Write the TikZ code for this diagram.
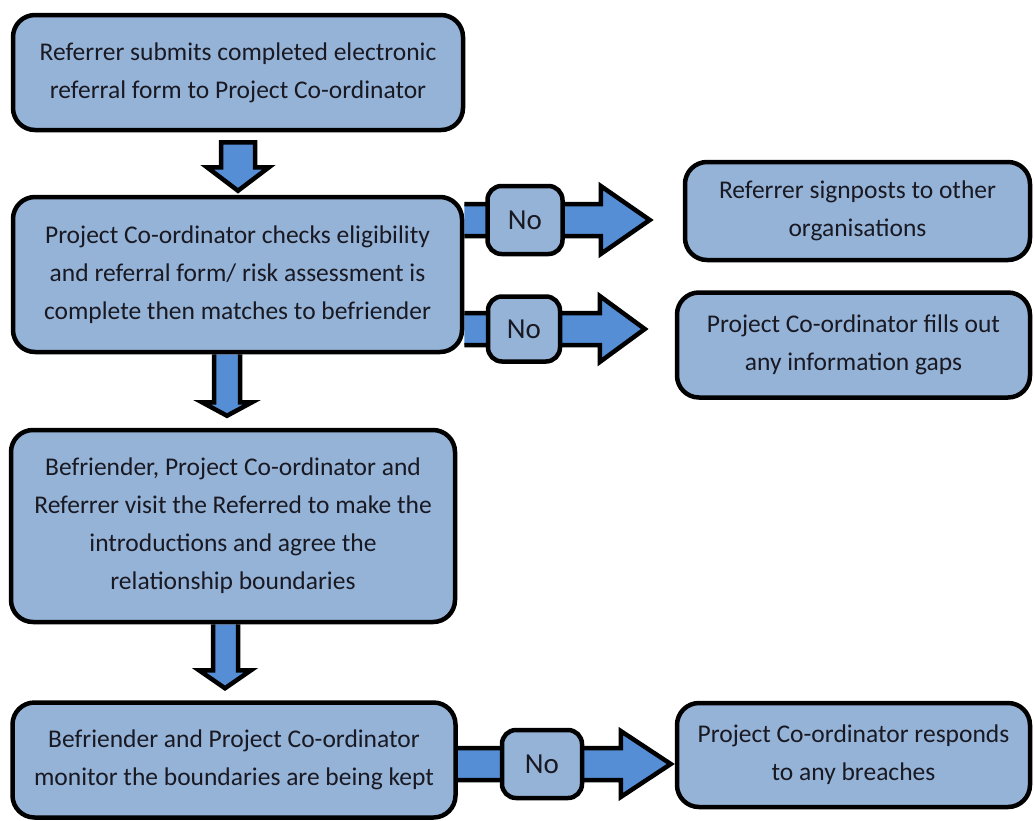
\documentclass[tikz,border=0pt]{standalone}
\usepackage{fontspec}
\setmainfont{Carlito}
\usetikzlibrary{calc,backgrounds}
\definecolor{boxblue}{RGB}{149,179,215}
\definecolor{arrowblue}{RGB}{85,142,213}
\definecolor{inkdark}{RGB}{25,25,35}

\begin{document}
\begin{tikzpicture}[x=1pt, y=-1pt,
  stage/.style={rectangle, rounded corners=22pt, draw=black, line width=4.5pt,
    fill=boxblue, align=center, text=inkdark, font=\fontsize{25.5}{38}\selectfont},
  nobox/.style={rectangle, rounded corners=14pt, draw=black, line width=4.5pt,
    fill=boxblue, text=inkdark, font=\fontsize{29}{30}\selectfont},
  fat/.style={draw=black, line width=4.5pt, fill=arrowblue, line join=miter}]
  \useasboundingbox (0,0) rectangle (1034,820);
  % \draw[help lines] (0,0) grid[step=100] (1034,820);
  \node at (238, 72.5) [stage, minimum width=450pt, minimum height=115pt]
  (submit) {Referrer submits completed electronic\\ referral form to Project Co-ordinator};
  \node at (237.5, 274.5) [stage, minimum width=449pt, minimum height=155pt]
  (check) {Project Co-ordinator checks eligibility\\ and referral form/ risk assessment is\\ complete then matches to befriender};
  \node at (233, 526) [stage, minimum width=444pt, minimum height=192pt]
  (visit) {Befriender, Project Co-ordinator and\\ Referrer visit the Referred to make the\\ introductions and agree the\\ relationship boundaries};
  \node at (234, 760) [stage, minimum width=443pt, minimum height=115pt]
  (monitor) {Befriender and Project Co-ordinator\\ monitor the boundaries are being kept};
  \node at (857.5, 211) [stage, minimum width=345pt, minimum height=98pt]
  (signpost) {Referrer signposts to other\\ organisations};
  \node at (853.5, 345) [stage, minimum width=353pt, minimum height=105pt]
  (gaps) {Project Co-ordinator fills out\\ any information gaps};
  \node at (853.5, 755) [stage, minimum width=353pt, minimum height=104pt]
  (breach) {Project Co-ordinator responds\\ to any breaches};
  \node at (525, 220) [nobox, minimum width=75pt, minimum height=68pt] (no1) {No};
  \node at (524, 329) [nobox, minimum width=72pt, minimum height=65pt] (no2) {No};
  \node at (542, 764) [nobox, minimum width=80pt, minimum height=68pt] (no3) {No};

  \begin{pgfonlayer}{background}
  \fill[white] (0,0) rectangle (1034,820);
  % down arrows
  \draw[fat] let \p1=(submit.south), \p2=(check.north) in
  (\x1-17pt,\y1-10pt) -- (\x1-17pt,\y1-35pt) -- (\x1-31pt,\y1-35pt) -- (\x1,\y2+4pt)
  -- (\x1+31pt,\y1-35pt) -- (\x1+17pt,\y1-35pt) -- (\x1+17pt,\y1-10pt) -- cycle;
  \draw[fat] let \p1=(check.south), \p2=(visit.north) in
  (\x2-19pt,\y1) -- (\x2-19pt,\y1-48pt) -- (\x2-31pt,\y1-48pt) -- (\x2-6pt,\y2+12pt)
  -- (\x2+19pt,\y1-48pt) -- (\x2+7pt,\y1-48pt) -- (\x2+7pt,\y1);
  \draw[fat] let \p1=(visit.south), \p2=(monitor.north) in
  (\x2-21pt,\y1) -- (\x2-21pt,\y2+30pt) -- (\x2-35pt,\y2+30pt) -- (\x2-9pt,\y2+12pt)
  -- (\x2+17pt,\y2+30pt) -- (\x2+4pt,\y2+30pt) -- (\x2+4pt,\y1);
  % side arrows
  \draw[fat] let \p1=(check.east), \p2=(signpost.west), \p3=(no1) in
  (\x1,\y3+16pt) -- (\x2-82pt,\y3+16pt) -- (\x2-82pt,\y3+34pt) -- (\x2-33pt,\y3)
  -- (\x2-82pt,\y3-34pt) -- (\x2-82pt,\y3-16pt) -- (\x1,\y3-16pt);
  \draw[fat] let \p1=(check.east), \p2=(gaps.west), \p3=(no2) in
  (\x1,\y3+16pt) -- (\x2-75pt,\y3+16pt) -- (\x2-75pt,\y3+33pt) -- (\x2-30pt,\y3)
  -- (\x2-75pt,\y3-33pt) -- (\x2-75pt,\y3-16pt) -- (\x1,\y3-16pt);
  \draw[fat] let \p1=(monitor.east), \p2=(breach.west), \p3=(no3) in
  (\x1,\y3+16pt) -- (\x2-54pt,\y3+16pt) -- (\x2-54pt,\y3+33pt) -- (\x2-4pt,\y3)
  -- (\x2-54pt,\y3-33pt) -- (\x2-54pt,\y3-16pt) -- (\x1,\y3-16pt);
  \end{pgfonlayer}
\end{tikzpicture}
\end{document}
